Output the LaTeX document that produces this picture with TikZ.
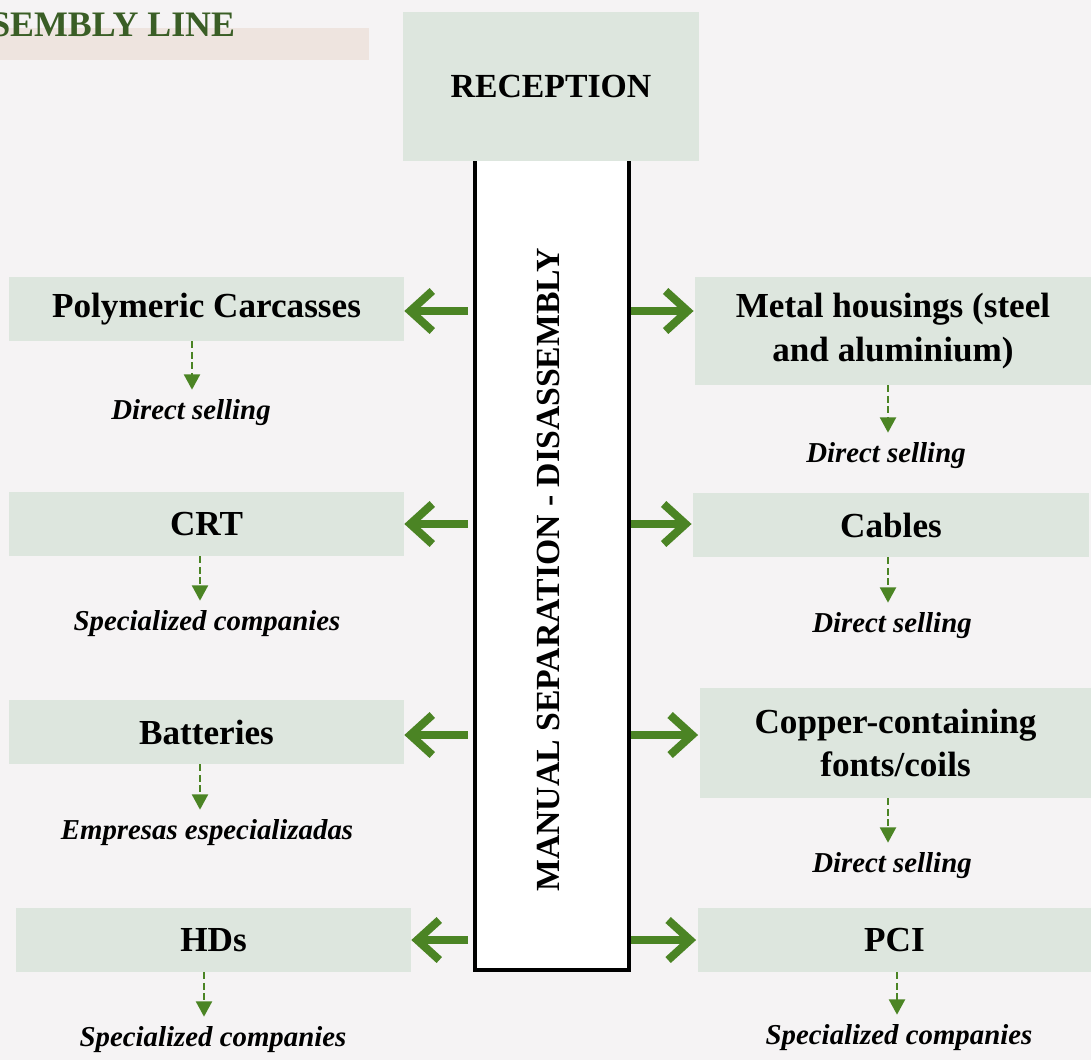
\documentclass[tikz,border=0pt]{standalone}
\usepackage{fontspec}
\setmainfont{Liberation Serif}
\usetikzlibrary{arrows.meta}
\usetikzlibrary{positioning}
\definecolor{bgcol}{HTML}{F5F3F4}
\definecolor{boxcol}{HTML}{DDE6DE}
\definecolor{barcol}{HTML}{EEE4DF}
\definecolor{arrowgreen}{HTML}{4B8424}
\definecolor{titlegreen}{HTML}{3A5E26}
\tikzstyle{stagebox}=[fill=boxcol,minimum width=9.875cm,minimum height=1.6cm,inner sep=0pt,align=center,font=\fontsize{25}{31}\selectfont\bfseries]
\tikzstyle{destlabel}=[inner sep=0pt,font=\fontsize{20.5}{24}\selectfont\bfseries\itshape]
\tikzstyle{column}=[draw=black,fill=white,line width=3.3pt,minimum width=3.85cm,minimum height=20.45cm,inner sep=0pt]
\tikzstyle{sidearrow}=[draw=arrowgreen,line width=5.7pt,-{Straight Barb[length=0.55cm,width=1.0cm]}]
\tikzstyle{dasharrow}=[draw=arrowgreen,line width=1.4pt,dash pattern=on 5pt off 2.5pt,-{Triangle[length=0.38cm,width=0.4cm]}]
\tikzstyle{titletext}=[inner sep=0pt,text=titlegreen,font=\fontsize{25.5}{30}\selectfont\bfseries]
\begin{document}
\begin{tikzpicture}[x=0.025cm, y=-0.025cm]
    % background and title bar
    \useasboundingbox (0,0) rectangle (1091,1060);
    \fill[bgcol] (0,0) rectangle (1091,1060);
    \fill[barcol] (0,28) rectangle (369,60);
    \begin{scope}
        \clip (0,0) rectangle (1091,1060);
        \node[titletext, anchor=base west] (title) at (-10,36) {SEMBLY LINE};
    \end{scope}

    % central line and reception
    \node[column] (col) at (552,561) {};
    \node[inner sep=0pt, rotate=90, font=\fontsize{24}{28}\selectfont\bfseries] (collabel) at (548,570) {MANUAL SEPARATION - DISASSEMBLY};
    \node[stagebox, minimum width=7.4cm, minimum height=3.725cm, font=\fontsize{24}{28}\selectfont\bfseries] (recep) at (551,86.5) {RECEPTION};

    % left side
    \node[stagebox] (poly) at (206.5,309) {Polymeric Carcasses};
    \node[stagebox] (crt) at (206.5,524) {CRT};
    \node[stagebox] (batt) at (206.5,732) {Batteries};
    \node[stagebox] (hds) at (213.5,940) {HDs};

    % right side
    \node[stagebox, minimum height=2.7cm] (metal) at (893,331) {Metal housings (steel\\and aluminium)};
    \node[stagebox] (cables) at (891,525) {Cables};
    \node[stagebox, minimum width=9.775cm, minimum height=2.75cm] (copper) at (895.5,743) {Copper-containing\\fonts/coils};
    \node[stagebox, minimum width=9.825cm] (pci) at (894.5,940) {PCI};

    % where the parts go
    \node[destlabel] (polydest) at (191,413) {Direct selling};
    \node[destlabel] (crtdest) at (207,624) {Specialized companies};
    \node[destlabel] (battdest) at (207,833) {Empresas especializadas};
    \node[destlabel] (hdsdest) at (213,1040) {Specialized companies};
    \node[destlabel] (metaldest) at (886,456) {Direct selling};
    \node[destlabel] (cablesdest) at (892,626) {Direct selling};
    \node[destlabel] (copperdest) at (892,866) {Direct selling};
    \node[destlabel] (pcidest) at (899,1038) {Specialized companies};

    % arrows out of the line
    \foreach \y/\dest in {311/poly, 524/crt, 735/batt, 940/hds}
        \draw[sidearrow, shorten <=0.12cm] (col.west |- 0,\y) -- (\dest.east |- 0,\y);
    \foreach \y/\dest in {311/metal, 524/cables, 735/copper, 940/pci}
        \draw[sidearrow, shorten >=0.04cm] (col.east |- 0,\y) -- (\dest.west |- 0,\y);

    % dashed arrows to the buyers
    \foreach \x/\source/\dest in {192/poly/polydest, 200/crt/crtdest, 200/batt/battdest, 204/hds/hdsdest, 888/metal/metaldest, 888/cables/cablesdest, 888/copper/copperdest, 897/pci/pcidest}
        \draw[dasharrow, shorten >=0.25cm] (\x,0 |- \source.south) -- (\x,0 |- \dest.north);
\end{tikzpicture}
\end{document}
